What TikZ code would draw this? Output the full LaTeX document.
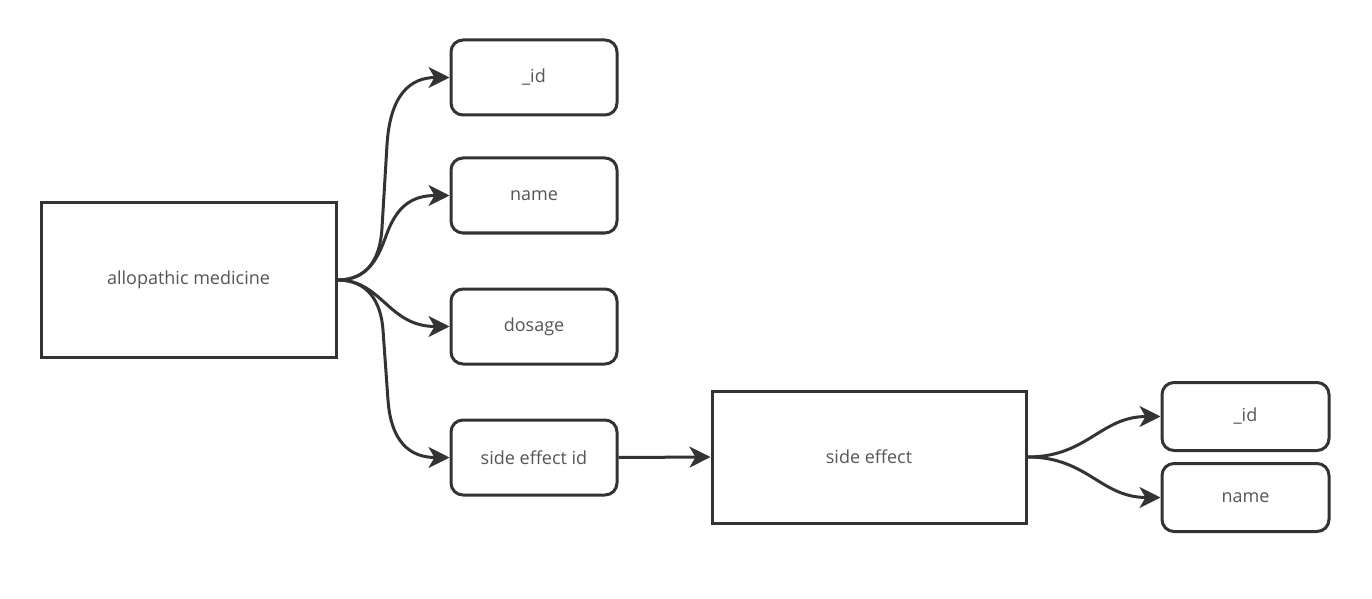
\documentclass[tikz,border=0pt]{standalone}
\usepackage{fontspec}
\setmainfont{Open Sans}
\usetikzlibrary{arrows.meta}
\definecolor{ink}{HTML}{333333}
\definecolor{txt}{HTML}{555555}
\tikzset{
  base/.style={draw=ink, line width=1.5pt, fill=white, inner sep=0pt, text=txt, font=\fontsize{9pt}{11pt}\selectfont},
  bigbox/.style={base, minimum width=147.5pt, minimum height=77pt},
  sebox/.style={base, minimum width=157pt, minimum height=66pt},
  field/.style={base, rounded corners=6pt, minimum width=83pt, minimum height=37.5pt},
  field2/.style={base, rounded corners=6pt, minimum width=83.5pt, minimum height=34pt},
  conn/.style={draw=ink, line width=1.5pt, -{Stealth[length=10.5pt,width=10.5pt,inset=3pt]}}
}
\begin{document}
\begin{tikzpicture}[x=0.5pt,y=-0.5pt]
\useasboundingbox (0,0) rectangle (1372,599);
\node[bigbox] (am) at (188.5,280) {allopathic medicine};
\node[field] (id1) at (534,77.5) {\_id};
\node[field] (nm1) at (534,195.5) {name};
\node[field] (ds) at (534,326.5) {dosage};
\node[field] (sei) at (534,457.5) {side effect id};
\node[sebox] (se) at (869,457) {side effect};
\node[field2] (id2) at (1245.5,416.5) {\_id};
\node[field2] (nm2) at (1245.5,497.5) {name};
\coordinate (b1) at (382,228);
\coordinate (b2) at (387,145);
\coordinate (b3) at (386,236);
\coordinate (b5) at (383,330);
\coordinate (b6) at (388,400);
\draw[conn] (am.east) .. controls (366,280) and (380,261) .. (b1) -- (b2) .. controls (390,95) and (410,77.5) .. (id1.west);
\draw[conn] (am.east) .. controls (368,280) and (378,258) .. (b3) .. controls (396,208) and (410,195.5) .. (nm1.west);
\draw[conn] (am.east) .. controls (382,280) and (388,326.5) .. (ds.west);
\draw[conn] (am.east) .. controls (368,280) and (381,302) .. (b5) -- (b6) .. controls (391,442) and (410,457.5) .. (sei.west);
\draw[conn] (sei.east) -- (se.west);
\draw[conn] (se.east) .. controls +(60,0) and +(-60,0) .. (id2.west);
\draw[conn] (se.east) .. controls +(60,0) and +(-60,0) .. (nm2.west);
\end{tikzpicture}
\end{document}
